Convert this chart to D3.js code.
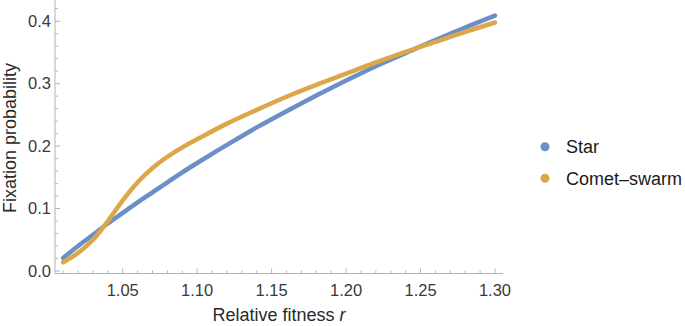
<!DOCTYPE html>
<html lang="en">
<head>
    <meta charset="UTF-8">
    <title>Fixation probability vs relative fitness</title>
    <script src="https://d3js.org/d3.v7.min.js"></script>
    <style>
        body {
            margin: 0;
            background: #fff;
            font-family: "Liberation Sans", Arial, sans-serif;
        }
        .tick-label {
            font-size: 16.5px;
            fill: #3a3a3a;
        }
        .axis-title {
            font-size: 18px;
            fill: #2a2a2a;
        }
        .legend-label {
            font-size: 18px;
            fill: #1a1a1a;
        }
    </style>
</head>
<body>
    <svg width="685" height="326"></svg>
    <script>
        // values
        const fitness = [1.01, 1.02, 1.03, 1.04, 1.05, 1.06, 1.07, 1.08, 1.09, 1.10,
                         1.12, 1.14, 1.16, 1.18, 1.20, 1.22, 1.24, 1.26, 1.28, 1.30];
        const starValues = [0.021, 0.040, 0.058, 0.076, 0.093, 0.110, 0.126, 0.142, 0.158, 0.173,
                            0.202, 0.230, 0.256, 0.281, 0.305, 0.328, 0.349, 0.370, 0.390, 0.409];
        const cometValues = [0.014, 0.029, 0.050, 0.080, 0.113, 0.142, 0.165, 0.183, 0.198, 0.211,
                             0.236, 0.258, 0.279, 0.298, 0.316, 0.334, 0.351, 0.367, 0.383, 0.398];
        const seriesNames = ["Star", "Comet\u2013swarm"];
        const seriesColors = ["#6b8fc6", "#dca748"];
        const xTicks = [1.05, 1.10, 1.15, 1.20, 1.25, 1.30];
        const yTicks = [0.0, 0.1, 0.2, 0.3, 0.4];

        const svg = d3.select("svg");

        const x = d3.scaleLinear()
            .domain([1.0045, 1.3054])
            .range([55, 503]);

        const y = d3.scaleLinear()
            .domain([-0.004, 0.434])
            .range([273.5, 0]);

        const axisColor = "#b4b4b4";

        // minor ticks
        const xMinor = d3.range(1.01, 1.301, 0.01).filter(v => Math.abs(v * 20 - Math.round(v * 20)) > 1e-6);
        const yMinor = d3.range(0.02, 0.431, 0.02).filter(v => Math.abs(v * 10 - Math.round(v * 10)) > 1e-6);

        const axes = svg.append("g");

        // x axis
        axes.append("line")
            .attr("x1", x.range()[0]).attr("x2", x.range()[1])
            .attr("y1", y(-0.004)).attr("y2", y(-0.004))
            .attr("stroke", axisColor).attr("stroke-width", 1);

        axes.selectAll(".xmajor")
            .data(xTicks)
            .enter().append("line")
            .attr("x1", d => x(d)).attr("x2", d => x(d))
            .attr("y1", y(-0.004)).attr("y2", y(-0.004) - 5)
            .attr("stroke", axisColor);

        axes.selectAll(".xminor")
            .data(xMinor)
            .enter().append("line")
            .attr("x1", d => x(d)).attr("x2", d => x(d))
            .attr("y1", y(-0.004)).attr("y2", y(-0.004) - 3)
            .attr("stroke", axisColor);

        axes.selectAll(".xlabel")
            .data(xTicks)
            .enter().append("text")
            .attr("class", "tick-label")
            .attr("x", d => x(d))
            .attr("y", 296)
            .attr("text-anchor", "middle")
            .text(d => d3.format(".2f")(d));

        // y axis
        axes.append("line")
            .attr("x1", x.range()[0]).attr("x2", x.range()[0])
            .attr("y1", y.range()[0]).attr("y2", y.range()[1])
            .attr("stroke", axisColor).attr("stroke-width", 1);

        axes.selectAll(".ymajor")
            .data(yTicks)
            .enter().append("line")
            .attr("x1", x.range()[0]).attr("x2", x.range()[0] + 5)
            .attr("y1", d => y(d)).attr("y2", d => y(d))
            .attr("stroke", axisColor);

        axes.selectAll(".yminor")
            .data(yMinor)
            .enter().append("line")
            .attr("x1", x.range()[0]).attr("x2", x.range()[0] + 3)
            .attr("y1", d => y(d)).attr("y2", d => y(d))
            .attr("stroke", axisColor);

        axes.selectAll(".ylabel")
            .data(yTicks)
            .enter().append("text")
            .attr("class", "tick-label")
            .attr("x", 51)
            .attr("y", d => y(d))
            .attr("dy", "0.35em")
            .attr("text-anchor", "end")
            .text(d => d3.format(".1f")(d));

        // axis titles
        const xTitle = svg.append("text")
            .attr("class", "axis-title")
            .attr("x", 279)
            .attr("y", 321)
            .attr("text-anchor", "middle");
        xTitle.append("tspan").text("Relative fitness ");
        xTitle.append("tspan").attr("font-style", "italic").text("r");

        svg.append("text")
            .attr("class", "axis-title")
            .attr("transform", "translate(16,138) rotate(-90)")
            .attr("text-anchor", "middle")
            .text("Fixation probability");

        // curves
        const series = [starValues, cometValues];
        const line = d3.line()
            .x((d, i) => x(fitness[i]))
            .y(d => y(d))
            .curve(d3.curveCatmullRom.alpha(0.5));

        svg.selectAll(".curve")
            .data(series)
            .enter().append("path")
            .attr("class", "curve")
            .attr("d", d => line(d))
            .attr("fill", "none")
            .attr("stroke", (d, i) => seriesColors[i])
            .attr("stroke-width", 4.5)
            .attr("stroke-linecap", "round");

        // legend
        const legend = svg.selectAll(".legend")
            .data(seriesNames)
            .enter().append("g")
            .attr("class", "legend")
            .attr("transform", (d, i) => `translate(545,${146.7 + i * 31.6})`);

        legend.append("circle")
            .attr("r", 4.5)
            .attr("fill", (d, i) => seriesColors[i]);

        legend.append("text")
            .attr("class", "legend-label")
            .attr("x", 21)
            .attr("dy", "0.35em")
            .text(d => d);
    </script>
</body>
</html>
